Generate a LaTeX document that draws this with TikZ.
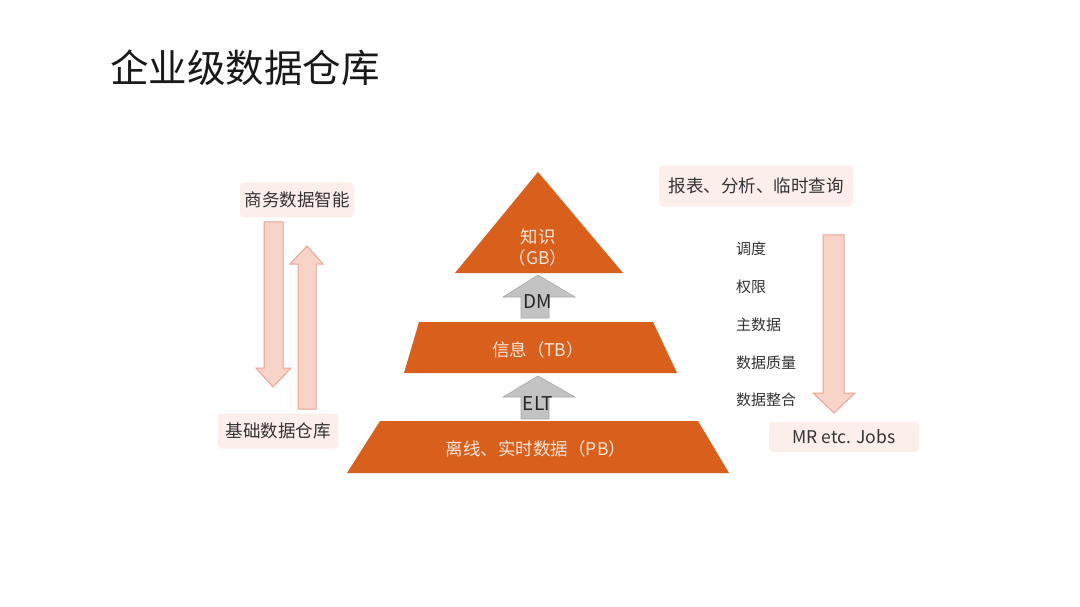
\documentclass[tikz,border=0pt]{standalone}
\usepackage{fontspec}
\setmainfont{Noto Sans CJK SC}
\definecolor{pyr}{HTML}{D95F1C}
\definecolor{pyrtxt}{HTML}{FBE6DA}
\definecolor{boxbg}{HTML}{FCEEEA}
\definecolor{arrfill}{HTML}{F8D3C8}
\definecolor{arrline}{HTML}{E9A595}
\definecolor{grayfill}{HTML}{C3C3C3}
\definecolor{grayline}{HTML}{A8A8A8}
\definecolor{txt}{HTML}{333333}
\tikzset{
  pyrlabel/.style={text=pyrtxt, font=\fontsize{17.5}{20}\selectfont, inner sep=0pt},
  sidebox/.style={fill=boxbg, rounded corners=4pt, text=txt, font=\fontsize{17.5}{20}\selectfont, inner sep=0pt},
  sidetext/.style={text=txt, font=\fontsize{15}{17}\selectfont, anchor=west, inner sep=0pt},
  pinkarrow/.style={fill=arrfill, draw=arrline, line width=1pt},
  grayarrow/.style={fill=grayfill, draw=grayline, line width=0.6pt},
  arrowtext/.style={text=black!85, font=\fontsize{19}{22}\selectfont, inner sep=0pt}
}
\begin{document}
\begin{tikzpicture}[x=1pt,y=-1pt]
\useasboundingbox (0,0) rectangle (1080,607);
\fill[white] (0,0) rectangle (1080,607);
% title
\node[anchor=west, inner sep=0pt, font=\fontsize{38.5}{44}\selectfont, text=black!90] (title) at (110,68) {企业级数据仓库};
% pyramid
\fill[pyr] (538,172) -- (623,273) -- (455,273) -- cycle;
\fill[pyr] (419,322) -- (653,322) -- (677,373) -- (404,373) -- cycle;
\fill[pyr] (380,421) -- (698,421) -- (729,473) -- (347,473) -- cycle;
\node[pyrlabel] (gb1) at (538,237) {知识};
\node[pyrlabel] (gb2) at (538,258) {（GB）};
\node[pyrlabel] (tb) at (538,350) {信息（TB）};
\node[pyrlabel] (pb) at (536,449) {离线、实时数据（PB）};
% gray arrows
\draw[grayarrow] (538,275) -- (575,297) -- (549,297) -- (549,318) -- (521,318) -- (521,297) -- (503,297) -- cycle;
\node[arrowtext] (dm) at (538,302) {DM};
\draw[grayarrow] (538,376) -- (575,397) -- (549,397) -- (549,419) -- (521,419) -- (521,397) -- (503,397) -- cycle;
\node[arrowtext] (elt) at (538,404) {ELT};
% left side
\node[sidebox, minimum width=114pt, minimum height=35pt] (bi) at (297,200) {商务数据智能};
\node[sidebox, minimum width=120pt, minimum height=35pt] (dw) at (278,431) {基础数据仓库};
\draw[pinkarrow] (264,222) -- (283,222) -- (283,368) -- (291,368) -- (273,387) -- (256,368) -- (264,368) -- cycle;
\draw[pinkarrow] (298,409) -- (316,409) -- (316,264) -- (323,264) -- (307,246) -- (290,264) -- (298,264) -- cycle;
% right side
\node[sidebox, minimum width=194pt, minimum height=41pt] (rep) at (756,186) {报表、分析、临时查询};
\draw[pinkarrow] (823,235) -- (844,235) -- (844,393) -- (855,393) -- (834,413) -- (813,393) -- (823,393) -- cycle;
\node[sidetext] (t1) at (736,249) {调度};
\node[sidetext] (t2) at (736,287) {权限};
\node[sidetext] (t3) at (736,325) {主数据};
\node[sidetext] (t4) at (736,363) {数据质量};
\node[sidetext] (t5) at (736,400) {数据整合};
\node[sidebox, minimum width=150pt, minimum height=30pt] (mr) at (844,437) {MR etc. Jobs};
\end{tikzpicture}
\end{document}
